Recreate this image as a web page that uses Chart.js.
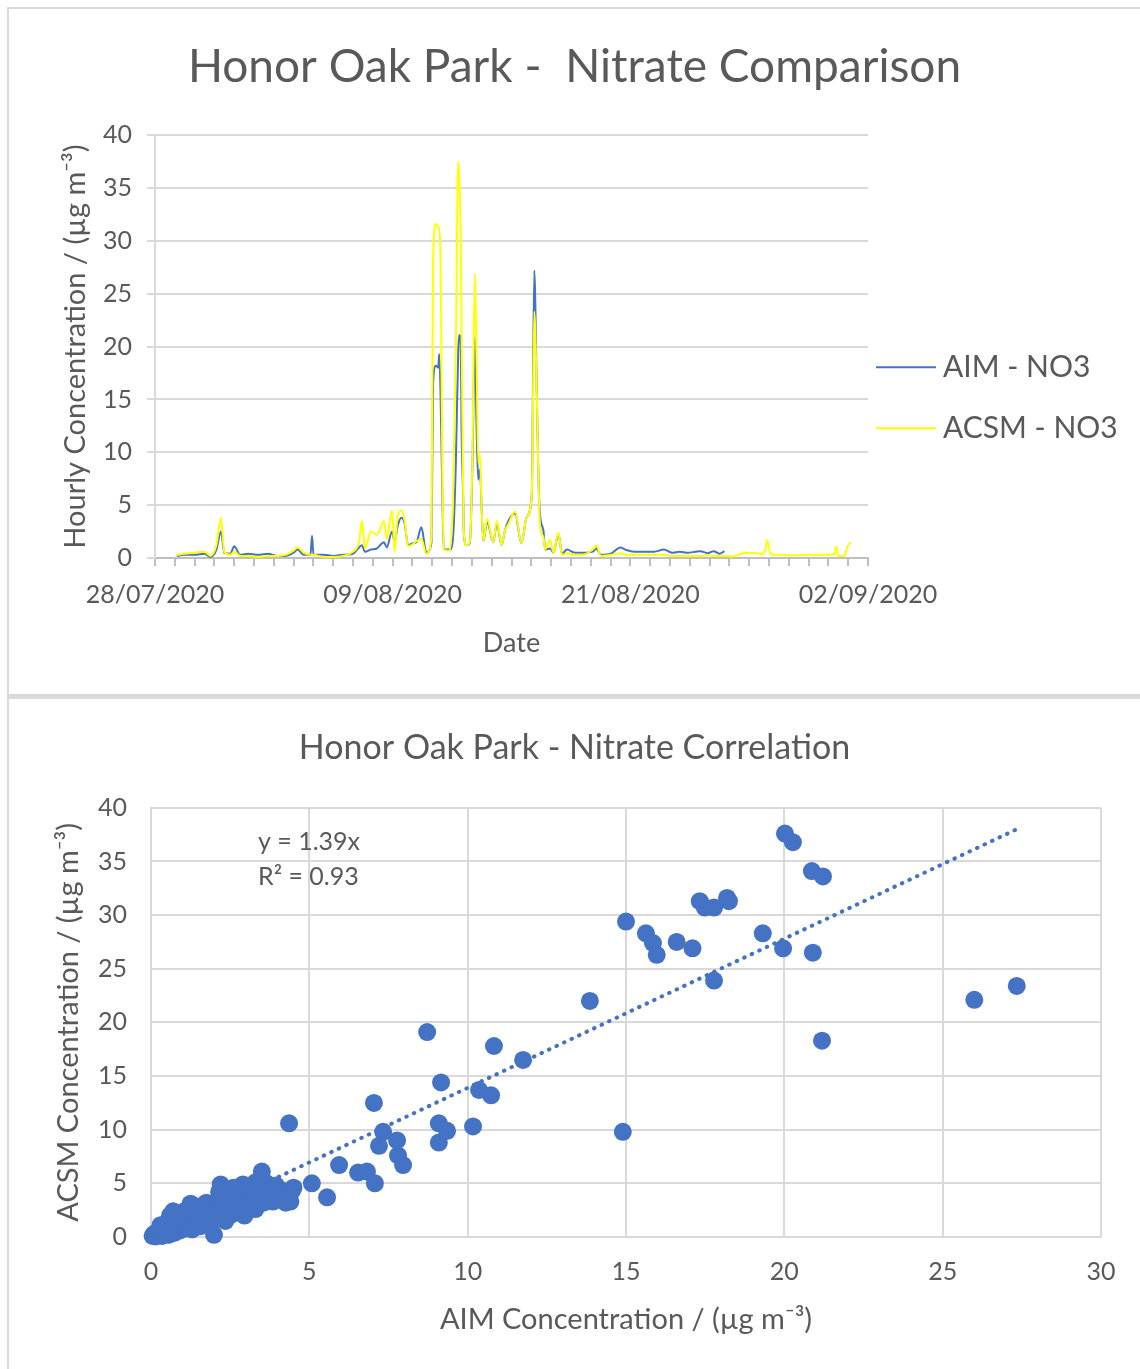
<!DOCTYPE html>
<html lang="en">

<head>
    <meta charset="UTF-8">
    <title>Honor Oak Park - Nitrate</title>
    <script src="https://cdn.jsdelivr.net/npm/chart.js"></script>
    <style>
        body { margin: 0; background: #fff; }
        .frame { position: absolute; left: 7px; top: 7px; width: 1133px; height: 1362px; border-top: 2px solid #d9d9d9; border-left: 2px solid #d9d9d9; box-sizing: border-box; }
        .panel { position: absolute; left: 9px; width: 1131px; }
        #topPanel { top: 9px; height: 685px; }
        .divider { position: absolute; left: 9px; top: 694px; width: 1131px; height: 5px; background: #dadada; }
        #bottomPanel { top: 699px; height: 670px; }
    </style>
</head>

<body>
    <div class="frame"></div>
    <div class="panel" id="topPanel"><canvas id="timeChart"></canvas></div>
    <div class="divider"></div>
    <div class="panel" id="bottomPanel"><canvas id="corrChart"></canvas></div>

    <script>
        // Time series: days since 28/07/2020, hourly nitrate (ug m-3)
        const days = [1.10, 1.50, 2.00, 2.50, 2.80, 3.10, 3.33, 3.50, 3.80, 4.00, 4.30, 4.70, 5.20, 5.70, 6.20, 6.60, 7.00, 7.20, 7.50, 7.85,
            7.93, 8.00, 8.50, 9.00, 9.50, 10.00, 10.30, 10.45, 10.60, 10.90, 11.20, 11.56, 11.70, 11.97, 12.10, 12.25, 12.44, 12.60, 12.78, 13.00,
            13.20, 13.45, 13.70, 13.96, 14.04, 14.18, 14.30, 14.35, 14.42, 14.51, 14.58, 14.89, 15.05, 15.19, 15.31, 15.36, 15.44, 15.48, 15.56, 15.59,
            15.73, 15.90, 16.03, 16.15, 16.24, 16.32, 16.41, 16.49, 16.58, 16.77, 17.08, 17.26, 17.50, 17.67, 17.84, 18.18, 18.50, 18.77, 19.02, 19.15,
            19.28, 19.36, 19.44, 19.61, 19.70, 19.95, 20.12, 20.37, 20.55, 20.80, 21.20, 21.60, 22.10, 22.30, 22.50, 23.00, 23.50, 23.80, 24.20, 24.70,
            25.20, 25.70, 26.10, 26.50, 26.90, 27.30, 27.54, 27.90, 28.20, 28.50, 28.75, 29.20, 29.70, 30.20, 30.60, 30.80, 30.90, 31.10, 31.60, 32.20,
            32.80, 33.40, 34.00, 34.30, 34.40, 34.50, 34.80, 34.97, 35.14];
        const aimNO3 = [0.2, 0.3, 0.3, 0.4, 0.1, 0.8, 2.5, 0.5, 0.4, 1.1, 0.3, 0.4, 0.3, 0.4, 0.2, 0.2, 0.5, 0.8, 0.3, 0.3,
            2.1, 0.3, 0.3, 0.2, 0.3, 0.4, 1.0, 1.2, 0.6, 0.8, 0.9, 1.5, 1.0, 2.5, 1.5, 3.0, 3.8, 3.3, 1.2, 1.4,
            1.5, 2.9, 0.5, 1.5, 16.5, 18.2, 18.0, 19.3, 15.3, 5.8, 0.8, 0.8, 2.0, 9.0, 19.5, 21.1, 20.3, 12.0, 5.8, 2.5,
            1.2, 1.5, 9.0, 20.9, 12.1, 7.4, 8.4, 4.8, 1.6, 3.4, 1.5, 3.3, 1.2, 2.6, 3.5, 4.2, 1.4, 3.9, 5.8, 27.2,
            15.3, 7.7, 4.1, 2.6, 0.8, 0.9, 0.5, 2.3, 0.4, 0.8, 0.5, 0.5, 0.6, 0.9, 0.3, 0.4, 1.0, 0.75, 0.6, 0.6,
            0.6, 0.8, 0.5, 0.6, 0.5, 0.6, 0.65, 0.45, 0.65, 0.4, 0.65, null, null, null, null, null, null, null, null, null,
            null, null, null, null, null, null, null, null, null];
        const acsmNO3 = [0.3, 0.4, 0.5, 0.6, 0.2, 1.2, 3.8, 0.6, 0.3, 0.6, 0.2, 0.2, 0.1, 0.2, 0.2, 0.3, 0.7, 1.0, 0.5, 0.3,
            0.3, 0.3, 0.1, 0.1, 0.2, 0.6, 1.5, 3.5, 0.9, 2.5, 2.2, 3.5, 1.8, 4.5, 0.6, 4.0, 4.5, 3.6, 1.1, 1.3,
            1.6, 1.8, 0.4, 2.0, 27.9, 31.6, 31.3, 31.0, 27.9, 8.0, 0.8, 0.7, 5.8, 20.0, 37.5, 36.0, 30.0, 21.6, 6.0, 2.6,
            1.2, 1.6, 9.9, 26.9, 18.4, 9.0, 9.8, 4.8, 1.6, 3.7, 1.5, 3.5, 1.2, 2.6, 3.2, 4.4, 1.4, 3.9, 5.8, 23.3,
            15.3, 7.7, 3.0, 2.0, 0.8, 1.7, 0.5, 2.4, 0.3, 0.45, 0.3, 0.3, 0.8, 1.2, 0.2, 0.3, 0.45, 0.3, 0.3, 0.3,
            0.3, 0.3, 0.2, 0.2, 0.2, 0.2, 0.2, 0.25, 0.2, 0.2, 0.2, 0.15, 0.45, 0.5, 0.4, 0.6, 1.7, 0.3, 0.3, 0.25,
            0.3, 0.3, 0.3, 0.35, 1.1, 0.2, 0.2, 1.1, 1.5];
        const dateTicks = 12; // a labelled tick every 12 days

        // Correlation: AIM (x) vs ACSM (y)
        const aimConc = [0.05, 0.1, 0.15, 0.2, 0.25, 0.3, 0.35, 0.4, 0.45, 0.5, 0.55, 0.6, 0.65, 0.7, 0.75, 0.8, 0.85, 0.9, 0.95, 1.0,
            1.05, 1.1, 1.2, 1.25, 1.3, 1.35, 1.4, 1.5, 1.55, 1.6, 1.7, 1.75, 1.8, 1.9, 2.0, 2.05, 2.15, 2.2, 2.3, 2.35,
            2.45, 2.5, 2.55, 2.65, 2.75, 2.8, 2.9, 2.95, 3.05, 3.1, 3.2, 3.3, 3.4, 3.5, 3.55, 3.65, 3.7, 3.8, 3.85, 3.95,
            4.05, 4.15, 4.25, 4.35, 4.45, 4.4, 4.5, 1.99, 2.2, 2.9, 1.25, 0.7, 0.3, 1.0, 3.3, 2.6,
            5.08, 5.56, 5.94, 6.54, 6.82, 7.07, 7.04, 7.2, 7.33, 7.77, 7.8, 7.96, 4.36, 8.72, 9.09, 9.09, 9.16, 9.35, 10.17, 10.36,
            10.74, 10.83, 11.75, 13.86, 14.9, 15.0, 15.63, 15.85, 15.97, 16.6, 17.1, 17.33, 17.49, 17.78, 17.78, 18.19, 18.25, 19.32, 19.96, 20.02,
            20.27, 20.87, 20.9, 21.19, 21.22, 26.0, 27.34];
        const acsmConc = [0.1, 0.3, 0.05, 0.4, 0.2, 0.6, 0.1, 0.9, 0.4, 1.3, 0.2, 2.0, 0.7, 1.6, 0.4, 1.1, 2.1, 0.6, 1.5, 1.0,
            2.4, 0.8, 1.8, 1.2, 0.7, 2.6, 1.5, 2.1, 1.0, 2.9, 1.7, 3.2, 1.4, 2.5, 3.0, 1.7, 4.2, 2.2, 3.5, 1.5,
            2.8, 4.0, 2.1, 3.3, 4.5, 2.5, 3.8, 2.0, 4.6, 3.0, 3.7, 2.6, 4.2, 6.1, 3.2, 5.0, 3.8, 4.4, 3.3, 4.8,
            3.6, 4.3, 3.2, 3.9, 4.3, 3.3, 4.6, 0.2, 4.9, 4.9, 3.1, 2.4, 1.1, 2.0, 5.1, 4.6,
            5.0, 3.7, 6.7, 6.0, 6.1, 5.0, 12.5, 8.5, 9.8, 9.0, 7.6, 6.7, 10.6, 19.1, 10.6, 8.8, 14.4, 9.9, 10.3, 13.7,
            13.2, 17.8, 16.5, 22.0, 9.8, 29.4, 28.3, 27.4, 26.3, 27.5, 26.9, 31.3, 30.7, 30.7, 23.9, 31.6, 31.3, 28.3, 26.9, 37.6,
            36.8, 34.1, 26.5, 18.3, 33.6, 22.1, 23.4];
        const trendSlope = 1.39;
        const trendR2 = 0.93;

        const textColor = '#595959';
        const gridColor = '#d9d9d9';
        const fontFamily = 'Lato, "Open Sans", sans-serif';

        const startDay = Date.UTC(2020, 6, 28);
        function dayLabel(d) {
            const dt = new Date(startDay + d * 86400000);
            const dd = String(dt.getUTCDate()).padStart(2, '0');
            const mm = String(dt.getUTCMonth() + 1).padStart(2, '0');
            return dd + '/' + mm + '/' + dt.getUTCFullYear();
        }

        // empty axis on the right, only to keep room for the legend / labels
        function rightRoom(width) {
            return {
                position: 'right',
                display: true,
                grid: { display: false, drawTicks: false },
                border: { display: false },
                ticks: { display: false },
                afterFit: function (scale) { scale.width = width; }
            };
        }

        // legend drawn beside the plot
        const sideLegend = {
            id: 'sideLegend',
            afterDraw(chart, args, opts) {
                if (!opts.show) return;
                const { ctx, chartArea } = chart;
                ctx.save();
                ctx.font = opts.size + 'px ' + fontFamily;
                ctx.textBaseline = 'middle';
                chart.data.datasets.forEach((ds, i) => {
                    const y = chartArea.top + opts.top + i * opts.spacing;
                    const x = chartArea.right + opts.gap;
                    ctx.strokeStyle = ds.borderColor;
                    ctx.lineWidth = 2;
                    ctx.beginPath();
                    ctx.moveTo(x, y);
                    ctx.lineTo(x + opts.lineLength, y);
                    ctx.stroke();
                    ctx.fillStyle = textColor;
                    ctx.fillText(ds.label, x + opts.lineLength + 7, y);
                });
                ctx.restore();
            }
        };

        // trendline equation text
        const trendLabel = {
            id: 'trendLabel',
            afterDraw(chart, args, opts) {
                if (!opts.show) return;
                const { ctx, scales } = chart;
                ctx.save();
                ctx.font = opts.size + 'px ' + fontFamily;
                ctx.fillStyle = textColor;
                ctx.textBaseline = 'middle';
                const x = scales.x.getPixelForValue(opts.atX);
                ctx.fillText('y = ' + trendSlope.toFixed(2) + 'x', x, scales.y.getPixelForValue(opts.atY));
                ctx.fillText('R\u00B2 = ' + trendR2.toFixed(2), x, scales.y.getPixelForValue(opts.atY) + 35);
                ctx.restore();
            }
        };
        Chart.register(sideLegend, trendLabel);

        const aimPoints = [];
        const acsmPoints = [];
        days.forEach((d, i) => {
            if (aimNO3[i] !== null) aimPoints.push({ x: d, y: aimNO3[i] });
            if (acsmNO3[i] !== null) acsmPoints.push({ x: d, y: acsmNO3[i] });
        });

        // Top chart: time series
        new Chart(document.getElementById('timeChart'), {
            type: 'line',
            data: {
                datasets: [{
                    label: 'AIM - NO3',
                    data: aimPoints,
                    borderColor: '#4472C4',
                    borderWidth: 2,
                    pointRadius: 0,
                    cubicInterpolationMode: 'monotone',
                    order: 1
                }, {
                    label: 'ACSM - NO3',
                    data: acsmPoints,
                    borderColor: '#FFFF00',
                    borderWidth: 2,
                    pointRadius: 0,
                    cubicInterpolationMode: 'monotone',
                    order: 0
                }]
            },
            options: {
                responsive: true,
                maintainAspectRatio: false,
                animation: false,
                plugins: {
                    legend: { display: false },
                    tooltip: { enabled: false },
                    title: {
                        display: true,
                        text: 'Honor Oak Park -  Nitrate Comparison',
                        color: textColor,
                        font: { family: fontFamily, size: 46, weight: 'normal', lineHeight: 1.2 },
                        padding: { top: 31, bottom: 40 }
                    },
                    sideLegend: { show: true, size: 30, top: 232, spacing: 61, gap: 8, lineLength: 60 },
                    trendLabel: { show: false }
                },
                scales: {
                    x: {
                        type: 'linear',
                        min: 0,
                        max: 36,
                        ticks: {
                            stepSize: 1,
                            autoSkip: false,
                            maxRotation: 0,
                            minRotation: 0,
                            padding: 14,
                            color: textColor,
                            font: { family: fontFamily, size: 25 }
                            ,
                            callback: (v) => (v % dateTicks === 0 ? dayLabel(v) : '')
                        },
                        grid: { drawOnChartArea: false, color: '#bfbfbf', lineWidth: 2, tickLength: 8 },
                        border: { color: '#bfbfbf', width: 2 },
                        title: {
                            display: true,
                            text: 'Date',
                            color: textColor,
                            font: { family: fontFamily, size: 27 },
                            padding: { top: 0, bottom: 35 }
                        },
                        afterFit: function (scale) { scale.height = 136; }
                    },
                    y: {
                        min: 0,
                        max: 40,
                        ticks: {
                            stepSize: 5,
                            padding: 15,
                            color: textColor,
                            font: { family: fontFamily, size: 25 }
                        },
                        grid: { color: gridColor, lineWidth: 2, tickLength: 8 },
                        border: { color: gridColor, width: 2 },
                        title: {
                            display: true,
                            text: 'Hourly Concentration / (\u00B5g m\u207B\u00B3)',
                            color: textColor,
                            font: { family: fontFamily, size: 29 },
                            padding: { top: 49, bottom: 0 }
                        },
                        afterFit: function (scale) { scale.width = 146; }
                    },
                    legendRoom: rightRoom(272)
                }
            }
        });

        // Bottom chart: correlation scatter
        const scatterPoints = aimConc.map((x, i) => ({ x: x, y: acsmConc[i] }));
        const maxAim = Math.max(...aimConc);
        const trendPoints = [{ x: 0, y: 0 }, { x: maxAim, y: trendSlope * maxAim }];

        new Chart(document.getElementById('corrChart'), {
            type: 'scatter',
            data: {
                datasets: [{
                    label: 'NO3',
                    data: scatterPoints,
                    backgroundColor: '#4472C4',
                    borderWidth: 0,
                    pointRadius: 9,
                    clip: false,
                    order: 0
                }, {
                    label: 'Linear fit',
                    data: trendPoints,
                    showLine: true,
                    borderColor: '#4472C4',
                    borderWidth: 4,
                    borderCapStyle: 'round',
                    borderDash: [0.5, 7.8],
                    pointRadius: 0,
                    order: 1
                }]
            },
            options: {
                responsive: true,
                maintainAspectRatio: false,
                animation: false,
                plugins: {
                    legend: { display: false },
                    tooltip: { enabled: false },
                    title: {
                        display: true,
                        text: 'Honor Oak Park - Nitrate Correlation',
                        color: textColor,
                        font: { family: fontFamily, size: 34, weight: 'normal', lineHeight: 1.2 },
                        padding: { top: 29, bottom: 39 }
                    },
                    sideLegend: { show: false },
                    trendLabel: { show: true, size: 25, atX: 3.38, atY: 36.85 }
                },
                scales: {
                    x: {
                        min: 0,
                        max: 30,
                        ticks: {
                            stepSize: 5,
                            padding: 20,
                            color: textColor,
                            font: { family: fontFamily, size: 25 }
                        },
                        grid: { color: gridColor, lineWidth: 2, drawTicks: false },
                        border: { color: gridColor, width: 2 },
                        title: {
                            display: true,
                            text: 'AIM Concentration / (\u00B5g m\u207B\u00B3)',
                            color: textColor,
                            font: { family: fontFamily, size: 29 },
                            padding: { top: 0, bottom: 32 }
                        },
                        afterFit: function (scale) { scale.height = 132; }
                    },
                    y: {
                        min: 0,
                        max: 40,
                        ticks: {
                            stepSize: 5,
                            padding: 24,
                            color: textColor,
                            font: { family: fontFamily, size: 25 }
                        },
                        grid: { color: gridColor, lineWidth: 2, drawTicks: false },
                        border: { color: gridColor, width: 2 },
                        title: {
                            display: true,
                            text: 'ACSM Concentration / (\u00B5g m\u207B\u00B3)',
                            color: textColor,
                            font: { family: fontFamily, size: 29 },
                            padding: { top: 42, bottom: 0 }
                        },
                        afterFit: function (scale) { scale.width = 142; }
                    },
                    legendRoom: rightRoom(39)
                }
            }
        });
    </script>
</body>

</html>
